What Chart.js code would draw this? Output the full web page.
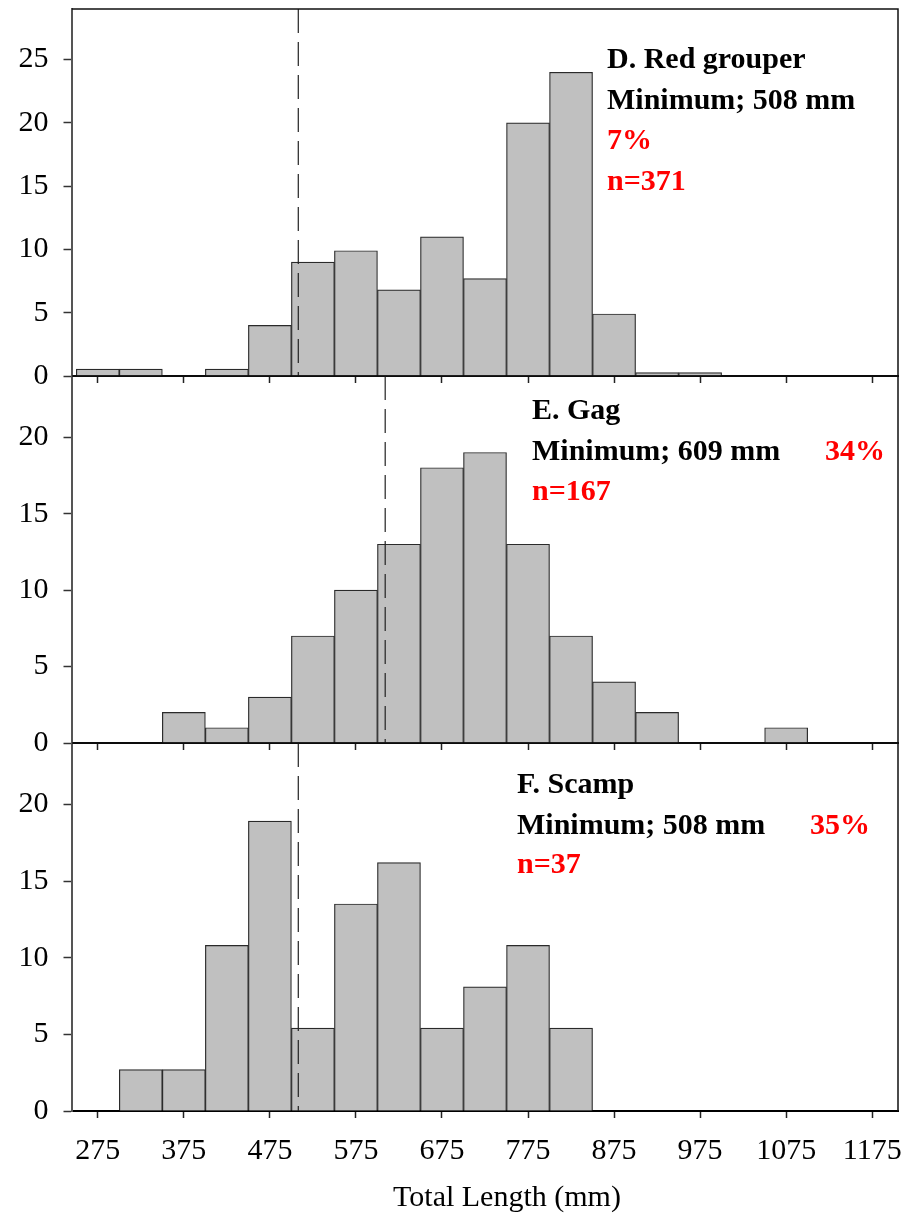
<!DOCTYPE html>
<html><head><meta charset="utf-8">
<script src="https://cdn.jsdelivr.net/npm/chart.js@4.4.1/dist/chart.umd.min.js"></script>
<style>
html,body{margin:0;padding:0;background:#fff;}
#wrap{position:relative;width:910px;height:1213px;overflow:hidden;}
canvas{position:absolute;left:0;}
</style></head><body>
<div id="wrap">
<canvas id="cD"></canvas>
<canvas id="cE"></canvas>
<canvas id="cF"></canvas>
</div>
<script>
// ---- data ----
const binCenters = [275,325,375,425,475,525,575,625,675,725,775,825,875,925,975,1025,1075,1125,1175];
const redGrouper = [0.54,0.54,0,0.54,4.0,9.0,9.9,6.8,11.0,7.7,20.0,24.0,4.9,0.27,0.27,0,0,0,0];
const gag        = [0,0,2,1,3,7,10,13,18,19,13,7,4,2,0,0,1,0,0];
const scamp      = [0,2.7,2.7,10.8,18.9,5.4,13.5,16.2,5.4,8.1,10.8,5.4,0,0,0,0,0,0,0];
const xTickValues = [275,375,475,575,675,775,875,975,1075,1175];
const yTicksD = [0,5,10,15,20,25];
const yTicksEF = [0,5,10,15,20];
const yMaxD = 29, yMaxEF = 24;
const xMin = 245, xMax = 1205;
const minSizeD = 508, minSizeE = 609, minSizeF = 508;
const textD = ['D. Red grouper','Minimum; 508 mm','7%','n=371'];
const textE = ['E. Gag','Minimum; 609 mm','34%','n=167'];
const textF = ['F. Scamp','Minimum; 508 mm','35%','n=37'];
const xAxisTitle = 'Total Length (mm)';

Chart.defaults.font.family = "'Liberation Serif','Times New Roman',serif";
Chart.defaults.color = '#000';

const RED = '#ff0000';
// annotation layouts (pixel offsets from chart area top-left)
const layoutD = [
  {i:0, dx:535, dy:59, color:'#000'},
  {i:1, dx:535, dy:99.5, color:'#000'},
  {i:2, dx:535, dy:140, color:RED},
  {i:3, dx:535, dy:180.5, color:RED}
];
const layoutE = [
  {i:0, dx:460, dy:43, color:'#000'},
  {i:1, dx:460, dy:84, color:'#000'},
  {i:2, dx:753, dy:84, color:RED},
  {i:3, dx:460, dy:124, color:RED}
];
const layoutF = [
  {i:0, dx:445, dy:50, color:'#000'},
  {i:1, dx:445, dy:91, color:'#000'},
  {i:2, dx:738, dy:91, color:RED},
  {i:3, dx:445, dy:130, color:RED}
];

const boxPlugin = {
  id: 'box',
  afterDatasetsDraw(chart) {
    const a = chart.chartArea, ctx = chart.ctx;
    ctx.save();
    ctx.strokeStyle = '#111';
    ctx.lineWidth = 1.5;
    ctx.beginPath();
    ctx.moveTo(a.left, a.top); ctx.lineTo(a.right, a.top); ctx.lineTo(a.right, a.bottom);
    ctx.stroke();
    ctx.restore();
  }
};

function makeTextPlugin(texts, layout, title) {
  return {
    id: 'notes',
    afterDraw(chart) {
      const a = chart.chartArea, ctx = chart.ctx;
      ctx.save();
      ctx.font = "bold 30px 'Liberation Serif','Times New Roman',serif";
      ctx.textBaseline = 'alphabetic';
      ctx.textAlign = 'left';
      layout.forEach(l => {
        ctx.fillStyle = l.color;
        ctx.fillText(texts[l.i], a.left + l.dx, a.top + l.dy);
      });
      if (title) {
        ctx.font = "30px 'Liberation Serif','Times New Roman',serif";
        ctx.fillStyle = '#000';
        ctx.textAlign = 'center';
        ctx.fillText(title, 507, a.bottom + 95);
      }
      ctx.restore();
    }
  };
}

function makePanel(id, top, height, padTop, xAxisHeight, values, yMax, yTicks, minLine, texts, layout, showX) {
  const cv = document.getElementById(id);
  cv.width = 910; cv.height = height;
  cv.style.top = top + 'px';
  cv.style.width = '910px'; cv.style.height = height + 'px';
  const barData = binCenters.map((c, k) => ({x: c, y: values[k]}));
  return new Chart(cv, {
    type: 'bar',
    data: {
      datasets: [
        {
          type: 'line',
          data: [{x: minLine, y: yMax}, {x: minLine, y: 0}],
          borderColor: '#222', borderWidth: 1.2, borderDash: [24, 9],
          pointRadius: 0, fill: false, order: 0
        },
        {
          type: 'bar',
          data: barData,
          backgroundColor: '#c0c0c0', borderColor: '#2a2a2a', borderWidth: 1.2,
          categoryPercentage: 1, barPercentage: 1, order: 1
        }
      ]
    },
    options: {
      responsive: false, animation: false, devicePixelRatio: 1,
      layout: {padding: {left: 0, right: 12, top: padTop, bottom: 0}},
      plugins: {legend: {display: false}, tooltip: {enabled: false}},
      scales: {
        x: {
          type: 'linear', min: xMin, max: xMax, offset: false,
          afterBuildTicks: s => { s.ticks = xTickValues.map(v => ({value: v})); },
          ticks: {display: showX, font: {size: 30}, color: '#000', padding: 15, maxRotation: 0, autoSkip: false, callback: v => String(v)},
          grid: {drawOnChartArea: false, drawTicks: true, tickLength: 7, tickColor: '#222', tickWidth: 1.5, offset: false},
          border: {display: true, color: '#000', width: 2},
          afterFit: s => { s.height = xAxisHeight; s.paddingLeft = 0; s.paddingRight = 0; }
        },
        y: {
          min: 0, max: yMax,
          afterBuildTicks: s => { s.ticks = yTicks.map(v => ({value: v})); },
          ticks: {font: {size: 30}, color: '#000', padding: 15},
          grid: {drawOnChartArea: false, drawTicks: true, tickLength: 8.5, tickColor: '#333', tickWidth: 1.5},
          border: {display: true, color: '#555', width: 2},
          afterFit: s => { s.width = 72; s.paddingTop = 0; s.paddingBottom = 0; }
        }
      }
    },
    plugins: [boxPlugin, makeTextPlugin(texts, layout, showX ? xAxisTitle : null)]
  });
}

makePanel('cD', 0, 390, 9, 14, redGrouper, yMaxD, yTicksD, minSizeD, textD, layoutD, false);
makePanel('cE', 370, 387, 6, 14, gag, yMaxEF, yTicksEF, minSizeE, textE, layoutE, false);
makePanel('cF', 737, 476, 6, 102, scamp, yMaxEF, yTicksEF, minSizeF, textF, layoutF, true);
</script>
</body></html>
